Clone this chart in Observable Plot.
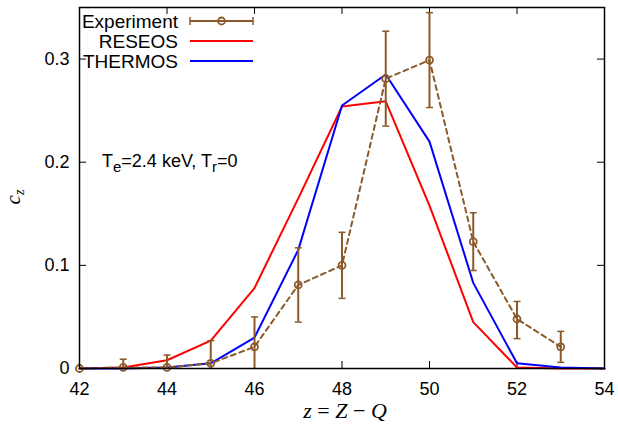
<!DOCTYPE html>
<html>
<head>
<meta charset="utf-8">
<script src="https://cdn.jsdelivr.net/npm/d3@7"></script>
<script src="https://cdn.jsdelivr.net/npm/@observablehq/plot@0.6"></script>
<style>
  html, body { margin: 0; padding: 0; background: white; }
  #chart { width: 618px; height: 429px; }
</style>
</head>
<body>
<div id="chart"></div>
<script>
// ---- data ----
const zValues = [42, 43, 44, 45, 46, 47, 48, 49, 50, 51, 52, 53, 54];
const reseos  = [0, 0.001, 0.008, 0.027, 0.078, 0.165, 0.254, 0.259, 0.158, 0.045, 0.001, 0, 0];
const thermos = [0, 0, 0.001, 0.005, 0.030, 0.115, 0.255, 0.285, 0.220, 0.083, 0.005, 0.001, 0];

const expZ    = [42, 43, 44, 45, 46, 47, 48, 49, 50, 51, 52, 53];
const expC    = [0, 0.001, 0.001, 0.005, 0.021, 0.081, 0.100, 0.281, 0.299, 0.123, 0.048, 0.021];
const expLow  = [0, -0.007, -0.011, -0.017, -0.008, 0.045, 0.068, 0.235, 0.253, 0.095, 0.029, 0.006];
const expHigh = [0, 0.009, 0.013, 0.027, 0.050, 0.117, 0.132, 0.327, 0.345, 0.151, 0.065, 0.036];

const xTicks = [42, 44, 46, 48, 50, 52, 54];
const yTicks = [0, 0.1, 0.2, 0.3];
const yTickLabels = ["0", "0.1", "0.2", "0.3"];

const seriesNames = ["Experiment", "RESEOS", "THERMOS"];
const colors = {Experiment: "#8c5a2a", RESEOS: "#ff0000", THERMOS: "#0000ff"};

// ---- tables ----
const theory = [];
zValues.forEach((z, i) => {
  theory.push({z, c: reseos[i], s: "RESEOS"});
  theory.push({z, c: thermos[i], s: "THERMOS"});
});
const exp = expZ.map((z, i) => ({z, c: expC[i], lo: expLow[i], hi: expHigh[i]}));
const expBars = exp.filter(d => d.hi > d.lo);

const capSymbol = {
  draw(ctx, size) {
    const r = Math.sqrt(size / Math.PI);
    ctx.moveTo(-r, 0); ctx.lineTo(r, 0);
  }
};

const W = 618, H = 429, mL = 79, mR = 14, mT = 7, mB = 61;
const pw = W - mL - mR, ph = H - mT - mB;
const tickLen = 7;
const brown = colors.Experiment;
const sans = "'Liberation Sans', Arial, Helvetica, sans-serif";
const serif = "'Liberation Serif', 'Times New Roman', serif";

const chart = Plot.plot({
  width: W, height: H,
  marginLeft: mL, marginRight: mR, marginTop: mT, marginBottom: mB,
  style: {fontFamily: sans, fontSize: "18px", background: "white", color: "black", overflow: "visible"},
  x: {domain: [42, 54]},
  y: {domain: [0, 0.35]},
  marks: [
    // inward ticks (bottom, top, left, right)
    Plot.tickX(xTicks, {x: d => d, insetTop: ph - tickLen, stroke: "black", strokeWidth: 1}),
    Plot.tickX(xTicks, {x: d => d, insetBottom: ph - tickLen, stroke: "black", strokeWidth: 1}),
    Plot.tickY(yTicks, {y: d => d, insetRight: pw - tickLen, stroke: "black", strokeWidth: 1}),
    Plot.tickY(yTicks, {y: d => d, insetLeft: pw - tickLen, stroke: "black", strokeWidth: 1}),
    Plot.axisX(xTicks, {anchor: "bottom", tickSize: 0, tickPadding: 14, label: null, fontSize: 18, tickFormat: d => String(d)}),
    Plot.axisY(yTicks, {anchor: "left", tickSize: 0, tickPadding: 10, label: null, fontSize: 18, tickFormat: (d) => yTickLabels[yTicks.indexOf(d)]}),
    // theory lines
    Plot.line(theory, {x: "z", y: "c", z: "s", stroke: d => colors[d.s], strokeWidth: 2, strokeLinejoin: "miter"}),
    // experiment
    Plot.line(exp, {x: "z", y: "c", stroke: brown, strokeWidth: 2, strokeDasharray: "5,4"}),
    Plot.ruleX(expBars, {x: "z", y1: "lo", y2: "hi", stroke: brown, strokeWidth: 2, clip: true}),
    Plot.dot(expBars.filter(d => d.hi <= 0.35), {x: "z", y: "hi", symbol: capSymbol, r: 3.5, stroke: brown, strokeWidth: 1.5}),
    Plot.dot(expBars.filter(d => d.lo >= 0), {x: "z", y: "lo", symbol: capSymbol, r: 3.5, stroke: brown, strokeWidth: 1.5}),
    Plot.dot(exp, {x: "z", y: "c", r: 3.5, stroke: brown, strokeWidth: 1.8, fill: "none"}),
    Plot.frame({stroke: "black", strokeWidth: 1.5})
  ]
});

document.getElementById("chart").appendChild(chart);

// ---- legend, annotation, axis labels ----
const svg = d3.select(chart);
const leg = svg.append("g").attr("font-family", sans).attr("font-size", 19);
const rowsY = [21, 41, 61];
const sx1 = 190, sx2 = 253, textEnd = 178;
seriesNames.forEach((name, i) => {
  const y = rowsY[i];
  leg.append("text").attr("x", textEnd).attr("y", y).attr("dy", "0.35em")
    .attr("text-anchor", "end").attr("fill", "black").text(name);
  if (name === "Experiment") {
    leg.append("line").attr("x1", sx1).attr("x2", sx2).attr("y1", y).attr("y2", y)
      .attr("stroke", brown).attr("stroke-width", 2);
    [sx1, sx2].forEach(x => leg.append("line").attr("x1", x).attr("x2", x)
      .attr("y1", y - 4).attr("y2", y + 4).attr("stroke", brown).attr("stroke-width", 1.5));
    leg.append("circle").attr("cx", (sx1 + sx2) / 2).attr("cy", y).attr("r", 3.5)
      .attr("fill", "none").attr("stroke", brown).attr("stroke-width", 1.8);
  } else {
    leg.append("line").attr("x1", sx1).attr("x2", sx2).attr("y1", y).attr("y2", y)
      .attr("stroke", colors[name]).attr("stroke-width", 2);
  }
});

const ann = svg.append("text").attr("x", 102).attr("y", 167).attr("text-anchor", "start")
  .attr("font-family", sans).attr("font-size", 18).attr("fill", "black");
ann.append("tspan").text("T");
ann.append("tspan").attr("font-size", 15).attr("dy", 5).text("e");
ann.append("tspan").attr("dy", -5).text("=2.4 keV, T");
ann.append("tspan").attr("font-size", 15).attr("dy", 5).text("r");
ann.append("tspan").attr("dy", -5).text("=0");

const xl = svg.append("text").attr("x", 345).attr("y", 418).attr("text-anchor", "middle")
  .attr("font-family", serif).attr("font-size", 22).attr("fill", "black");
xl.append("tspan").attr("font-style", "italic").text("z");
xl.append("tspan").text(" = ");
xl.append("tspan").attr("font-style", "italic").text("Z");
xl.append("tspan").text(" \u2212 ");
xl.append("tspan").attr("font-style", "italic").text("Q");

const yl = svg.append("text").attr("transform", "translate(20,197) rotate(-90)")
  .attr("text-anchor", "middle").attr("font-family", serif).attr("font-size", 21).attr("fill", "black");
yl.append("tspan").attr("font-style", "italic").text("c");
yl.append("tspan").attr("font-style", "italic").attr("font-size", 14).attr("dy", 4).text("z");
</script>
</body>
</html>
